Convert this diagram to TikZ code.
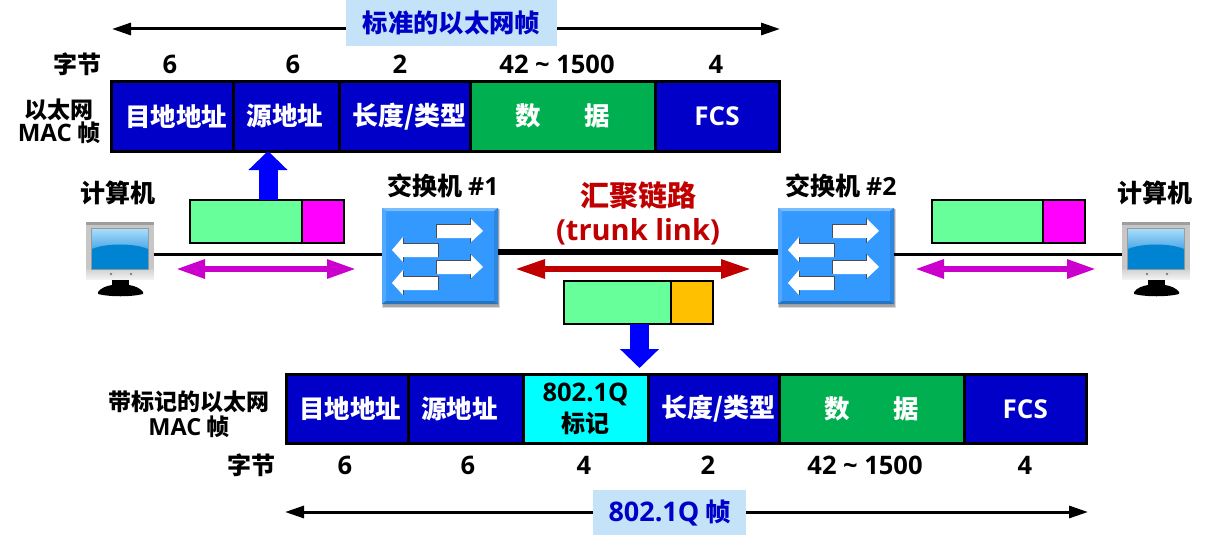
\documentclass[tikz,border=0pt]{standalone}
\usepackage{fontspec}
\setmainfont{Noto Sans CJK SC}
\newfontfamily\lat{Open Sans}
\usetikzlibrary{arrows.meta,calc}
\newcommand\fs[1]{\fontsize{#1}{#1}\selectfont}
\definecolor{fblue}{HTML}{0000C8}
\definecolor{fgreen}{HTML}{00B050}
\definecolor{fcyan}{HTML}{00FFFF}
\definecolor{pgreen}{HTML}{66FF99}
\definecolor{pmag}{HTML}{FF00FF}
\definecolor{porange}{HTML}{FFC000}
\definecolor{amag}{HTML}{CC00CC}
\definecolor{ared}{HTML}{C00000}
\definecolor{swblue}{HTML}{3399FF}
\definecolor{capbg}{HTML}{C5E3F8}
\definecolor{scrtop}{HTML}{A8DCFA}
\definecolor{scrmid}{HTML}{3FA0E4}
\definecolor{scrlow}{HTML}{0083D0}
\tikzset{
  field/.style={draw=black,line width=3pt,inner sep=0pt,outer sep=0pt,text=white,font=\fs{25.5}\bfseries,align=center},
  packet/.style={draw=black,line width=2pt,inner sep=0pt,outer sep=0pt},
  lbl/.style={inner sep=0pt,font=\fs{25}\bfseries,text=black,align=center},
  numlbl/.style={inner sep=0pt,font=\lat\fs{25.5}\bfseries,text=black},
  capbox/.style={fill=capbg,inner sep=0pt,text=fblue,font=\fs{25.3}\bfseries},
  spanline/.style={line width=3pt,{Triangle[length=19pt,width=12pt]}-{Triangle[length=19pt,width=12pt]}},
  linkline/.style={line width=3pt,draw=black},
  bigup/.style={line width=19pt,draw=blue,-{Triangle[length=19pt,width=38pt]}},
  magarrow/.style={line width=6pt,draw=amag,{Triangle[length=29pt,width=18pt]}-{Triangle[length=29pt,width=18pt]}},
  redarrow/.style={line width=6pt,draw=ared,{Triangle[length=30pt,width=18pt]}-{Triangle[length=30pt,width=18pt]}},
  swbox/.style={inner sep=0pt,outer sep=0pt,minimum width=116pt,minimum height=96pt},
  pcbox/.style={inner sep=0pt,outer sep=0pt,minimum width=68pt,minimum height=74pt},
}
% name, x1, x2, y1, y2, fill, text
\newcommand\fieldbox[7]{\pgfmathsetmacro\w{#3-#2}\pgfmathsetmacro\h{#5-#4}%
  \node[field,fill=#6,minimum width=\w pt,minimum height=\h pt] (#1) at ({(#2+#3)/2},{(#4+#5)/2}) {#7};}
\newcommand\pktbox[6]{\pgfmathsetmacro\w{#3-#2}\pgfmathsetmacro\h{#5-#4}%
  \node[packet,fill=#6,minimum width=\w pt,minimum height=\h pt] (#1) at ({(#2+#3)/2},{(#4+#5)/2}) {};}
% switch arrows
\newcommand\swR[1]{%
  \fill[white] (54,#1-7) -- (88,#1-7) -- (88,#1-13) -- (101,#1) -- (88,#1+12) -- (88,#1+7) -- (54,#1+7) -- cycle;
  \draw[line width=1pt,black!70] (54,#1+7) -- (54,#1-7) -- (88,#1-7) -- (88,#1-13);
  \draw[line width=1pt,black!70] (88,#1+7) -- (88,#1+12);}
\newcommand\swL[1]{%
  \fill[white] (56,#1-7) -- (21,#1-7) -- (21,#1-13) -- (10,#1) -- (21,#1+12) -- (21,#1+7) -- (56,#1+7) -- cycle;
  \draw[line width=1pt,black!70] (21,#1-12) -- (21,#1-7) -- (56,#1-7) -- (56,#1+7);
  \draw[line width=1pt,black!70] (21,#1+7) -- (21,#1+12);}
% switch node
\newcommand\switchnode[3]{%
  \fill[black!15] (#2,#3+1) rectangle (#2+118,#3+100);
  \fill[black!35] (#2+1,#3+1) rectangle (#2+117,#3+98.5);
  \node[swbox,fill=swblue] (#1) at (#2+58,#3+48) {};
  \begin{scope}[shift={(#2,#3)}]
    \fill[white!35!swblue] (0,0) -- (116,0) -- (112,3) -- (4,3) -- cycle;
    \fill[white!15!swblue] (0,0) -- (4,3) -- (4,93) -- (0,96) -- cycle;
    \fill[black!12!swblue] (116,0) -- (112,3) -- (112,93) -- (116,96) -- cycle;
    \fill[black!25!swblue] (0,96) -- (4,93) -- (112,93) -- (116,96) -- cycle;
    \swR{23}\swL{42}\swR{59}\swL{75}
  \end{scope}}
% computer node: name, left x, top y
\newcommand\pcnode[3]{%
  \node[pcbox] (#1) at (#2+34,#3+37) {};
  \begin{scope}[shift={(#2,#3)}]
    \fill[black] (26,55) rectangle (43,66);
    \fill[black] (12,70) .. controls (15,66) and (20,64) .. (26,63) -- (43,63) .. controls (49,64) and (54,66) .. (57,70) -- (57,72) .. controls (45,75) and (24,75) .. (12,72) -- cycle;
    \fill[black!22] (0,0) rectangle (68,50);
    \fill[top color=black!18,bottom color=black!5] (0,47) rectangle (68,57);
    \fill[black!38] (0,0) rectangle (68,3);
    \fill[black!50] (25,52) circle (1.3pt) (45,52) circle (1.3pt);
    \fill[black!40] (5,6) rectangle (63,48);
    \fill[top color=scrtop,bottom color=scrmid] (6,7) rectangle (62,30);
    \fill[scrlow] (6,27) .. controls (20,21) and (48,21) .. (62,27) -- (62,47) -- (6,47) -- cycle;
  \end{scope}}
\begin{document}
\begin{tikzpicture}[x=1pt,y=-1pt]
\useasboundingbox (0,0) rectangle (1212,543);
% top frame
\coordinate (topL) at (112,29);
\coordinate (topR) at (780,29);
\draw[spanline] (topL) -- (topR);
\node[capbox,minimum width=211pt,minimum height=46pt] (capTop) at (451.5,23) {标准的以太网帧};
\foreach \t/\x in {6/170,6/293,2/400,42 \textasciitilde{} 1500/557,4/716}
  \node[numlbl] at (\x,64) {\t};
\node[lbl,font=\fs{24}\bfseries] (bytesT) at (77,64) {字节};
\node[lbl,font=\fs{23}\bfseries,inner sep=0pt] (macT) at (59,121) {\fontsize{23}{26}\selectfont 以太网\\{\lat\fs{24}MAC} 帧};
\fieldbox{a1}{111.5}{233}{81.5}{151}{fblue}{\hspace*{8pt}目地地址}
\fieldbox{a2}{233}{339}{81.5}{151}{fblue}{\hspace*{-2pt}源地址}
\fieldbox{a3}{339}{470}{81.5}{151}{fblue}{\hspace*{10pt}\fs{26}长度/类型}
\fieldbox{a4}{470}{655}{81.5}{151}{fgreen}{数\hspace{1.7em}据}
\fieldbox{a5}{655}{779}{81.5}{151}{fblue}{{\lat\fs{26}FCS}}
% titles
\node[lbl] (pcLt) at (118,193) {计算机};
\node[lbl] (pcRt) at (1155,193) {计算机};
\node[lbl] (sw1t) at (443,186) {交换机 {\lat\#1}};
\node[lbl] (sw2t) at (841,186) {交换机 {\lat\#2}};
\node[lbl,text=ared,font=\fontsize{29}{34}\selectfont\bfseries] (trunk) at (638,213) {汇聚链路\\{\lat (trunk link)}};
% devices
\pcnode{pcL}{86}{222}
\pcnode{pcR}{1122}{222}
\switchnode{sw1}{382}{208}
\switchnode{sw2}{778}{208}
% links
\draw[linkline] (pcL.east |- 0,254) -- (sw1.west |- 0,254);
\draw[linkline,line width=6pt] (sw1.east |- 0,252) -- (sw2.west |- 0,252);
\draw[linkline] (sw2.east |- 0,254) -- (pcR.west |- 0,254);
% packets
\pktbox{p1a}{190}{302}{199.5}{242.5}{pgreen}
\pktbox{p1b}{302}{343.5}{199.5}{242.5}{pmag}
\pktbox{p2a}{931.5}{1043}{199.5}{242.5}{pgreen}
\pktbox{p2b}{1043}{1084.5}{199.5}{242.5}{pmag}
\pktbox{p3a}{563.5}{671}{280.5}{323.5}{pgreen}
\pktbox{p3b}{671}{712.5}{280.5}{323.5}{porange}
% arrows
\coordinate (mL1) at (176,269); \coordinate (mR1) at (356,269);
\coordinate (mL2) at (915,269); \coordinate (mR2) at (1096,269);
\coordinate (rL) at (515,269); \coordinate (rR) at (751,269);
\draw[magarrow] (mL1) -- (mR1);
\draw[magarrow] (mL2) -- (mR2);
\draw[redarrow] (rL) -- (rR);
% bottom frame
\fieldbox{b1}{286.5}{408}{374.5}{443.5}{fblue}{\hspace*{6pt}目地地址}
\fieldbox{b2}{408}{523}{374.5}{443.5}{fblue}{\hspace*{-12pt}源地址}
\fieldbox{b3}{523}{648}{374.5}{443.5}{fcyan}{\color{black}{\lat\fs{25.5}802.1Q}\\[5pt]\color{black}\fs{24}标记}
\fieldbox{b4}{648}{779}{374.5}{443.5}{fblue}{\hspace*{10pt}\fs{26}长度/类型}
\fieldbox{b5}{779}{964}{374.5}{443.5}{fgreen}{数\hspace{1.7em}据}
\fieldbox{b6}{964}{1086.5}{374.5}{443.5}{fblue}{{\lat\fs{26}FCS}}
% big arrows
\draw[bigup] (p1a.north -| 268,0) -- (a2.south -| 268,0);
\draw[bigup] (p3a.south -| 639.5,0) -- (639.5,368);
\node[lbl,font=\fontsize{23}{25}\selectfont\bfseries] (macB) at (189,414) {带标记的以太网\\{\lat\fs{23.5}MAC} 帧};
\node[lbl,font=\fs{24}\bfseries] (bytesB) at (251,465) {字节};
\foreach \t/\x in {6/345,6/468,4/584,2/708,42 \textasciitilde{} 1500/865,4/1025}
  \node[numlbl] at (\x,465) {\t};
\coordinate (botL) at (285,512);
\coordinate (botR) at (1088,512);
\draw[spanline] (botL) -- (botR);
\node[capbox,minimum width=153pt,minimum height=45pt] (capBot) at (669.5,512.5) {{\lat\fs{27}802.1Q} 帧};
\end{tikzpicture}
\end{document}
